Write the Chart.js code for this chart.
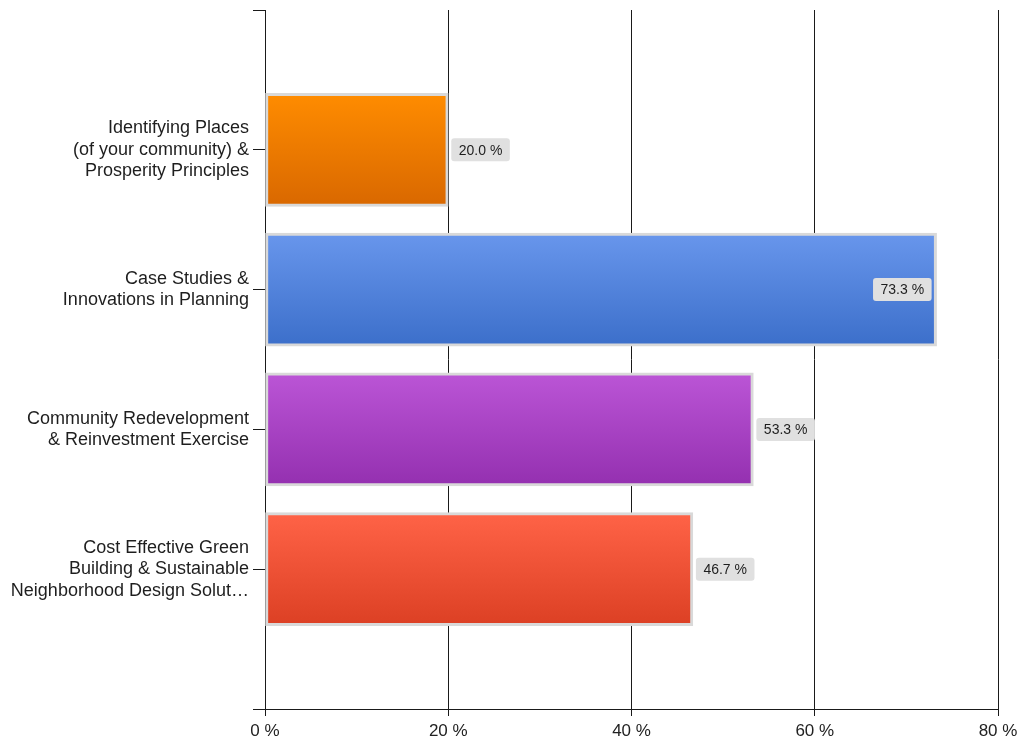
<!DOCTYPE html>
<html>
<head>
<meta charset="utf-8">
<script src="https://cdn.jsdelivr.net/npm/chart.js@4"></script>
<style>
  body { margin: 0; background: #fff; }
  #wrap { width: 1019px; height: 741px; }
</style>
</head>
<body>
<div id="wrap"><canvas id="myChart"></canvas></div>
<script>
// data
const categories = [
    ['Identifying Places', '(of your community) &', 'Prosperity Principles'],
    ['Case Studies &', 'Innovations in Planning'],
    ['Community Redevelopment', '& Reinvestment Exercise'],
    ['Cost Effective Green', 'Building & Sustainable', 'Neighborhood Design Solut\u2026'],
];
const values = [20.0, 73.3, 53.3, 46.7];
const topColors = ['#ff8c00', '#6896ec', '#bb55d6', '#ff6347'];
const bottomColors = ['#d96800', '#3c6fca', '#9430b0', '#dc4024'];
const xTickValues = [0, 20, 40, 60, 80];

// empty slot above and below, like the original
const labels = [''].concat(categories, ['']);
const barData = [null].concat(values, [null]);

function barColor(ctx) {
    const chart = ctx.chart;
    const i = ctx.dataIndex;
    if (i < 1 || i > categories.length) return '#ccc';
    const yScale = chart.scales.y;
    if (!chart.chartArea || !yScale) return topColors[i - 1];
    const y = yScale.getPixelForValue(i);
    const g = chart.ctx.createLinearGradient(0, y - 56, 0, y + 56);
    g.addColorStop(0, topColors[i - 1]);
    g.addColorStop(1, bottomColors[i - 1]);
    return g;
}

// value boxes next to / inside the bars
const valueLabels = {
    id: 'valueLabels',
    afterDatasetsDraw(chart) {
        const ctx = chart.ctx;
        const meta = chart.getDatasetMeta(0);
        ctx.save();
        ctx.font = '14px "Liberation Sans", Arial, sans-serif';
        meta.data.forEach((bar, i) => {
            const v = barData[i];
            if (v == null) return;
            const text = v.toFixed(1) + ' %';
            const w = ctx.measureText(text).width + 15;
            const h = 23;
            let x = bar.x + 3;
            if (x + w > chart.chartArea.right - 2) x = bar.x - 5 - w;
            const y = bar.y - h / 2;
            ctx.fillStyle = '#e0e0e0';
            ctx.beginPath();
            ctx.roundRect(x, y, w, h, 3);
            ctx.fill();
            ctx.fillStyle = '#1e1e1e';
            ctx.textAlign = 'center';
            ctx.textBaseline = 'middle';
            ctx.fillText(text, x + w / 2, bar.y + 1);
        });
        ctx.restore();
    }
};

const config = {
    type: 'bar',
    data: {
        labels: labels,
        datasets: [{
            data: barData,
            backgroundColor: barColor,
            borderColor: '#d9d9d9',
            borderWidth: 3,
            borderSkipped: false,
            barThickness: 113,
        }]
    },
    options: {
        indexAxis: 'y',
        responsive: true,
        maintainAspectRatio: false,
        animation: false,
        layout: { padding: { top: 10, right: 21, left: 0, bottom: 0 } },
        plugins: {
            legend: { display: false },
            tooltip: { enabled: false },
        },
        scales: {
            x: {
                type: 'linear',
                min: 0,
                max: 80,
                afterBuildTicks: (scale) => {
                    scale.ticks = xTickValues.map(v => ({ value: v }));
                },
                afterFit: (scale) => {
                    scale.height = 32;
                    scale.paddingLeft = 0;
                    scale.paddingRight = 0;
                },
                grid: {
                    color: '#1a1a1a',
                    lineWidth: 1,
                    tickLength: 7,
                },
                border: { color: '#1a1a1a' },
                ticks: {
                    color: '#222',
                    font: { family: '"Liberation Sans", Arial, sans-serif', size: 17 },
                    padding: 5,
                    callback: (v) => v + ' %',
                },
            },
            y: {
                type: 'category',
                offset: false,
                afterFit: (scale) => {
                    scale.width = 265;
                    scale.paddingTop = 0;
                    scale.paddingBottom = 0;
                },
                grid: {
                    offset: false,
                    drawOnChartArea: false,
                    color: '#1a1a1a',
                    tickLength: 12,
                },
                border: { color: '#1a1a1a' },
                ticks: {
                    color: '#1e1e1e',
                    autoSkip: false,
                    padding: 4,
                    font: { family: '"Liberation Sans", Arial, sans-serif', size: 18, lineHeight: 1.2 },
                },
            },
        },
    },
    plugins: [valueLabels],
};

const myChart = new Chart(document.getElementById('myChart'), config);
</script>
</body>
</html>
